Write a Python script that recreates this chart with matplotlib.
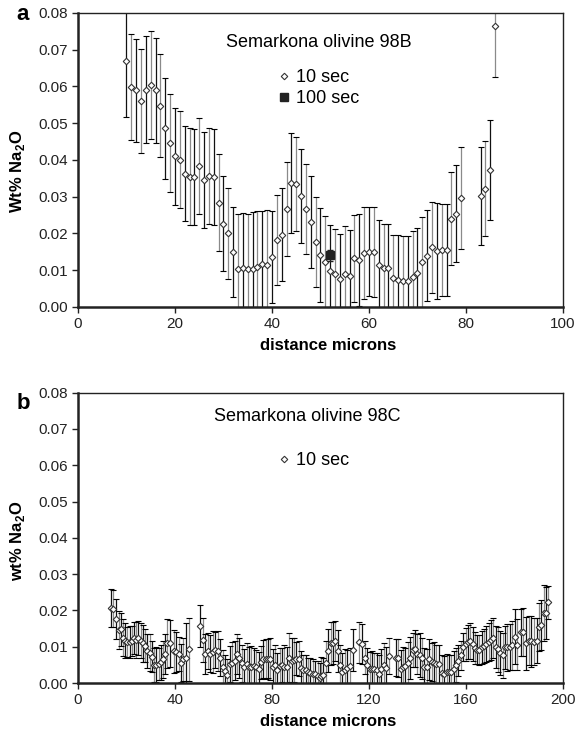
import matplotlib
matplotlib.use('Agg')
import matplotlib.pyplot as plt
from matplotlib.lines import Line2D

plt.rcParams['font.family'] = ['Liberation Sans', 'DejaVu Sans']
plt.rcParams['mathtext.fontset'] = 'custom'
plt.rcParams['mathtext.rm'] = 'Liberation Sans'
plt.rcParams['mathtext.bf'] = 'Liberation Sans:bold'

# panel a - Semarkona olivine 98B, 10 sec spots
x_a = [10, 11, 12, 13, 14, 15, 16, 17, 18, 19,
       20, 21, 22, 23, 24, 25, 26, 27, 28, 29,
       30, 31, 32, 33, 34, 35, 36, 37, 38, 39,
       40, 41, 42, 43, 44, 45, 46, 47, 48, 49,
       50, 51, 52, 53, 54, 55, 56, 57, 58, 59,
       60, 61, 62, 63, 64, 65, 66, 67, 68, 69,
       70, 71, 72, 73, 74, 75, 76, 77, 78, 79,
       83, 84, 85, 86]
y_a = [0.0668, 0.0598, 0.0590, 0.0560, 0.0591, 0.0604, 0.0590, 0.0548, 0.0486, 0.0446,
       0.0410, 0.0401, 0.0363, 0.0354, 0.0353, 0.0384, 0.0346, 0.0357, 0.0353, 0.0284,
       0.0227, 0.0200, 0.0149, 0.0102, 0.0106, 0.0103, 0.0103, 0.0110, 0.0116, 0.0115,
       0.0137, 0.0183, 0.0197, 0.0267, 0.0337, 0.0335, 0.0301, 0.0267, 0.0232, 0.0176,
       0.0141, 0.0123, 0.0099, 0.0091, 0.0076, 0.0091, 0.0084, 0.0132, 0.0129, 0.0146,
       0.0150, 0.0149, 0.0113, 0.0106, 0.0106, 0.0079, 0.0074, 0.0071, 0.0071, 0.0081,
       0.0093, 0.0122, 0.0140, 0.0163, 0.0153, 0.0155, 0.0155, 0.0240, 0.0254, 0.0297,
       0.0301, 0.0322, 0.0373, 0.0765]
err_a = [0.0151, 0.0145, 0.0140, 0.0142, 0.0146, 0.0147, 0.0143, 0.0141, 0.0137, 0.0133,
         0.0132, 0.0132, 0.0130, 0.0132, 0.0130, 0.0130, 0.0130, 0.0130, 0.0130, 0.0133,
         0.0130, 0.0125, 0.0122, 0.0150, 0.0151, 0.0150, 0.0155, 0.0151, 0.0145, 0.0149,
         0.0125, 0.0123, 0.0126, 0.0128, 0.0137, 0.0128, 0.0128, 0.0123, 0.0125, 0.0122,
         0.0127, 0.0125, 0.0124, 0.0121, 0.0123, 0.0130, 0.0125, 0.0118, 0.0125, 0.0125,
         0.0121, 0.0122, 0.0123, 0.0120, 0.0120, 0.0118, 0.0121, 0.0122, 0.0122, 0.0125,
         0.0121, 0.0123, 0.0125, 0.0124, 0.0131, 0.0126, 0.0124, 0.0126, 0.0131, 0.0139,
         0.0133, 0.0130, 0.0137, 0.0138]

# 100 sec spot
x_a100 = [52]
y_a100 = [0.0141]
err_a100 = [0.0015]

# panel b - Semarkona olivine 98C, 10 sec spots
x_b = [13.7, 14.6, 15.8, 16.8, 17.6, 18.6, 19.5, 20.3, 21.3, 22.3,
       23.1, 24.1, 24.9, 25.8, 26.8, 27.8, 28.6, 29.6, 30.5, 31.3,
       32.3, 33.3, 34.1, 35.1, 36.0, 36.8, 37.9, 39.6, 40.5, 41.5,
       42.5, 43.4, 44.4, 45.8, 50.5, 51.4, 52.5, 53.6, 54.6, 55.7,
       56.6, 57.6, 58.6, 59.7, 60.5, 61.6, 62.6, 63.7, 64.6, 65.6,
       66.5, 67.5, 68.6, 69.6, 70.5, 71.5, 72.5, 73.4, 74.5, 75.5,
       76.4, 77.4, 78.4, 79.3, 80.3, 81.3, 82.2, 83.2, 84.1, 85.1,
       86.1, 87.2, 88.1, 89.1, 90.1, 91.0, 92.0, 92.9, 93.9, 94.9,
       95.8, 96.9, 97.9, 98.8, 99.6, 100.2, 101.2, 102.3, 103.3, 104.2,
       105.2, 106.1, 107.1, 108.1, 109.0, 110.0, 111.1, 112.1, 113.3, 116.0,
       117.0, 118.2, 119.3, 120.3, 121.3, 122.1, 123.2, 124.2, 125.1, 126.2,
       127.2, 128.1, 131.0, 132.0, 133.1, 134.1, 135.0, 136.0, 136.9, 138.0,
       139.0, 140.0, 140.9, 141.9, 142.8, 143.8, 144.8, 145.9, 146.8, 147.8,
       148.9, 150.0, 151.1, 152.1, 153.0, 154.0, 155.0, 155.9, 156.9, 157.8,
       158.8, 159.8, 160.7, 161.7, 162.7, 163.6, 164.6, 165.5, 166.5, 167.5,
       168.4, 169.4, 170.4, 171.3, 172.3, 173.2, 174.2, 175.2, 176.1, 177.1,
       178.1, 179.0, 180.1, 181.1, 182.5, 183.6, 184.8, 185.9, 187.0, 188.2,
       189.2, 190.1, 191.1, 192.1, 192.9, 194.0]
y_b = [0.0206, 0.0205, 0.0176, 0.0146, 0.0148, 0.0125, 0.0116, 0.0113, 0.0113, 0.0116,
       0.0124, 0.0118, 0.0124, 0.0117, 0.0109, 0.0103, 0.0089, 0.0084, 0.0073, 0.0050,
       0.0050, 0.0052, 0.0057, 0.0065, 0.0080, 0.0109, 0.0109, 0.0087, 0.0086, 0.0080,
       0.0056, 0.0065, 0.0068, 0.0093, 0.0157, 0.0119, 0.0080, 0.0089, 0.0081, 0.0085,
       0.0090, 0.0087, 0.0070, 0.0044, 0.0032, 0.0021, 0.0052, 0.0056, 0.0062, 0.0080,
       0.0068, 0.0054, 0.0044, 0.0051, 0.0043, 0.0044, 0.0047, 0.0044, 0.0038, 0.0057,
       0.0066, 0.0066, 0.0067, 0.0066, 0.0043, 0.0049, 0.0036, 0.0047, 0.0050, 0.0045,
       0.0043, 0.0070, 0.0061, 0.0063, 0.0067, 0.0067, 0.0041, 0.0037, 0.0035, 0.0031,
       0.0028, 0.0025, 0.0024, 0.0020, 0.0015, 0.0020, 0.0023, 0.0056, 0.0089, 0.0109,
       0.0111, 0.0116, 0.0087, 0.0050, 0.0030, 0.0035, 0.0042, 0.0048, 0.0091, 0.0112,
       0.0107, 0.0070, 0.0049, 0.0039, 0.0039, 0.0039, 0.0035, 0.0026, 0.0039, 0.0049,
       0.0041, 0.0074, 0.0070, 0.0068, 0.0039, 0.0044, 0.0046, 0.0056, 0.0070, 0.0091,
       0.0095, 0.0080, 0.0077, 0.0068, 0.0044, 0.0044, 0.0065, 0.0058, 0.0054, 0.0051,
       0.0052, 0.0027, 0.0026, 0.0030, 0.0031, 0.0031, 0.0039, 0.0050, 0.0061, 0.0077,
       0.0100, 0.0107, 0.0113, 0.0115, 0.0107, 0.0096, 0.0091, 0.0091, 0.0098, 0.0102,
       0.0107, 0.0113, 0.0119, 0.0123, 0.0098, 0.0093, 0.0083, 0.0077, 0.0098, 0.0098,
       0.0100, 0.0104, 0.0128, 0.0105, 0.0140, 0.0140, 0.0109, 0.0117, 0.0115, 0.0114,
       0.0117, 0.0154, 0.0160, 0.0193, 0.0193, 0.0222]
err_b = [0.0053, 0.0050, 0.0055, 0.0052, 0.0045, 0.0050, 0.0048, 0.0042, 0.0045, 0.0042,
         0.0045, 0.0050, 0.0046, 0.0048, 0.0050, 0.0045, 0.0047, 0.0050, 0.0044, 0.0046,
         0.0048, 0.0045, 0.0048, 0.0050, 0.0055, 0.0068, 0.0065, 0.0060, 0.0055, 0.0048,
         0.0052, 0.0060, 0.0097, 0.0087, 0.0058, 0.0060, 0.0055, 0.0050, 0.0052, 0.0057,
         0.0050, 0.0055, 0.0052, 0.0048, 0.0046, 0.0045, 0.0050, 0.0058, 0.0055, 0.0055,
         0.0055, 0.0052, 0.0050, 0.0060, 0.0056, 0.0058, 0.0050, 0.0046, 0.0048, 0.0045,
         0.0052, 0.0055, 0.0054, 0.0058, 0.0052, 0.0055, 0.0047, 0.0050, 0.0046, 0.0060,
         0.0055, 0.0067, 0.0062, 0.0060, 0.0045, 0.0048, 0.0046, 0.0040, 0.0042, 0.0038,
         0.0042, 0.0040, 0.0038, 0.0042, 0.0040, 0.0052, 0.0046, 0.0060, 0.0060, 0.0060,
         0.0058, 0.0056, 0.0058, 0.0056, 0.0052, 0.0060, 0.0050, 0.0048, 0.0057, 0.0057,
         0.0055, 0.0045, 0.0048, 0.0046, 0.0050, 0.0045, 0.0048, 0.0052, 0.0055, 0.0060,
         0.0058, 0.0049, 0.0050, 0.0052, 0.0052, 0.0055, 0.0050, 0.0056, 0.0058, 0.0048,
         0.0052, 0.0055, 0.0060, 0.0056, 0.0052, 0.0050, 0.0056, 0.0052, 0.0060, 0.0055,
         0.0052, 0.0050, 0.0048, 0.0050, 0.0046, 0.0045, 0.0048, 0.0047, 0.0043, 0.0040,
         0.0039, 0.0045, 0.0048, 0.0050, 0.0047, 0.0045, 0.0040, 0.0042, 0.0046, 0.0048,
         0.0050, 0.0052, 0.0055, 0.0055, 0.0058, 0.0062, 0.0060, 0.0062, 0.0060, 0.0065,
         0.0063, 0.0068, 0.0076, 0.0070, 0.0065, 0.0066, 0.0072, 0.0068, 0.0070, 0.0065,
         0.0062, 0.0066, 0.0070, 0.0076, 0.0072, 0.0045]

yticks = [0.00, 0.01, 0.02, 0.03, 0.04, 0.05, 0.06, 0.07, 0.08]
xticks_a = [0, 20, 40, 60, 80, 100]
xticks_b = [0, 40, 80, 120, 160, 200]


def draw_points(ax, x, y, err):
    eb = ax.errorbar(x, y, yerr=err, fmt='none', ecolor='k', elinewidth=0.9,
                     capsize=2, capthick=0.8, zorder=2)
    # bars come out alternately dark and light grey in the original
    cols = ['#111111' if i % 2 == 0 else '#8a8a8a' for i in range(len(x))]
    eb.lines[2][0].set_color(cols)
    ax.plot(x, y, 'D', ms=3.3, mfc='white', mec='#333333', mew=0.8, zorder=3)


def style_axes(ax, xticks, xmax):
    ax.set_xlim(0, xmax)
    ax.set_ylim(0, 0.08)
    ax.set_xticks(xticks)
    ax.set_yticks(yticks)
    ax.set_yticklabels(['%.2f' % t for t in yticks])
    ax.tick_params(direction='out', length=4, width=1, labelsize=11, colors='#222222')
    for s in ['left', 'bottom']:
        ax.spines[s].set_linewidth(1.8)
    for s in ['top', 'right']:
        ax.spines[s].set_linewidth(1.0)
    for s in ax.spines.values():
        s.set_color('#222222')


fig = plt.figure(figsize=(5.85, 7.33), dpi=100)

# ---- panel a
ax1 = fig.add_axes([0.1333, 0.5812, 0.8291, 0.4011])
draw_points(ax1, x_a, y_a, err_a)
ax1.errorbar(x_a100, y_a100, yerr=err_a100, fmt='s', color='#222222', ms=5.5,
             ecolor='#222222', elinewidth=0.9, capsize=2, zorder=4)
style_axes(ax1, xticks_a, 100)
ax1.set_xlabel('distance microns', fontsize=12, fontweight='bold')
ax1.xaxis.set_label_coords(0.515, -0.105)
ax1.set_ylabel(r'Wt% Na$_\mathbf{2}$O', fontsize=12, fontweight='bold')
ax1.yaxis.set_label_coords(-0.105, 0.46)
ax1.text(0.496, 0.901, 'Semarkona olivine 98B', transform=ax1.transAxes,
         ha='center', va='center', fontsize=13)
h10 = Line2D([], [], marker='D', ls='none', ms=3.3, mfc='white', mec='#333333', mew=0.8)
h100 = Line2D([], [], marker='s', ls='none', ms=5.5, color='#222222')
ax1.legend([h10, h100], ['10 sec', '100 sec'], loc='upper left',
           bbox_to_anchor=(0.415, 0.808), frameon=False, fontsize=13,
           handlelength=0.5, handletextpad=0.45, labelspacing=0.2,
           borderpad=0, borderaxespad=0)
fig.text(0.038, 0.980, 'a', fontsize=16, fontweight='bold', ha='center', va='center')

# ---- panel b
ax2 = fig.add_axes([0.1333, 0.0682, 0.8291, 0.3962])
draw_points(ax2, x_b, y_b, err_b)
style_axes(ax2, xticks_b, 200)
ax2.set_xlabel('distance microns', fontsize=12, fontweight='bold')
ax2.xaxis.set_label_coords(0.515, -0.105)
ax2.set_ylabel(r'wt% Na$_\mathbf{2}$O', fontsize=12, fontweight='bold')
ax2.yaxis.set_label_coords(-0.105, 0.49)
ax2.text(0.473, 0.917, 'Semarkona olivine 98C', transform=ax2.transAxes,
         ha='center', va='center', fontsize=13)
ax2.legend([h10], ['10 sec'], loc='upper left',
           bbox_to_anchor=(0.415, 0.796), frameon=False, fontsize=13,
           handlelength=0.5, handletextpad=0.45,
           borderpad=0, borderaxespad=0)
fig.text(0.040, 0.449, 'b', fontsize=16, fontweight='bold', ha='center', va='center')

fig.savefig('out.png', dpi=100)
